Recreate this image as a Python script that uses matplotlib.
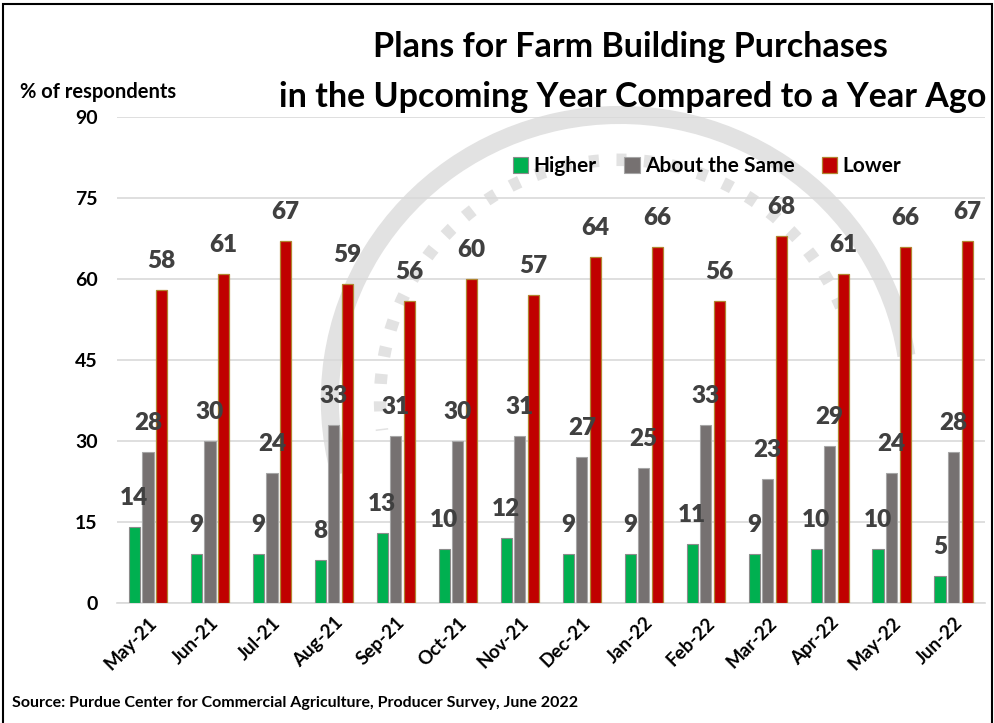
import matplotlib.pyplot as plt
import numpy as np
from matplotlib.patches import Rectangle, Arc

months = ["May-21", "Jun-21", "Jul-21", "Aug-21", "Sep-21", "Oct-21", "Nov-21",
          "Dec-21", "Jan-22", "Feb-22", "Mar-22", "Apr-22", "May-22", "Jun-22"]
higher = [14, 9, 9, 8, 13, 10, 12, 9, 9, 11, 9, 10, 10, 5]
same = [28, 30, 24, 33, 31, 30, 31, 27, 25, 33, 23, 29, 24, 28]
lower = [58, 61, 67, 59, 56, 60, 57, 64, 66, 56, 68, 61, 66, 67]

plt.rcParams['font.family'] = ['Lato', 'DejaVu Sans']
plt.rcParams['font.weight'] = 'bold'

fig = plt.figure(figsize=(9.95, 7.23), dpi=100)

# faint watermark arcs in the background
bg = fig.add_axes([0, 0, 1, 1], zorder=-1)
bg.axis('off')
bg.set_xlim(0, 1)
bg.set_ylim(0, 1)
wm = '#e2e2e2'
bg.add_patch(Arc((0.623, 0.447), 0.583, 0.788, theta1=12, theta2=200, lw=13, color=wm))
bg.add_patch(Arc((0.623, 0.447), 0.482, 0.664, theta1=30, theta2=190, lw=9, color=wm,
                 ls=(0, (0.8, 1.4))))

ax = fig.add_axes([0.1176, 0.166, 0.872, 0.672])

x = np.arange(len(months))
w = 0.18
off = 0.22
b1 = ax.bar(x - off, higher, w, color='#00b050', edgecolor='#8c8c8c', lw=0.8,
            label='Higher', zorder=3)
b2 = ax.bar(x, same, w, color='#767171', edgecolor='#a6a6a6', lw=0.8,
            label='About the Same', zorder=3)
b3 = ax.bar(x + off, lower, w, color='#c00000', edgecolor='#b08530', lw=0.9,
            label='Lower', zorder=3)

for bars, vals in [(b1, higher), (b2, same), (b3, lower)]:
    for rect, v in zip(bars, vals):
        ax.annotate(str(v), (rect.get_x() + rect.get_width() / 2, v),
                    xytext=(0, 13), textcoords='offset points',
                    ha='center', va='bottom', fontsize=17.5, fontweight='heavy',
                    color='#404040', zorder=4)

ax.set_ylim(0, 90)
ax.set_xlim(-0.5, len(months) - 0.5)
ax.set_yticks(np.arange(0, 91, 15))
ax.yaxis.grid(True, color='#d9d9d9', lw=1.2, zorder=0)
ax.set_axisbelow(True)
for s in ['top', 'right', 'left']:
    ax.spines[s].set_visible(False)
ax.spines['bottom'].set_color('#d9d9d9')
ax.spines['bottom'].set_linewidth(1.2)
ax.tick_params(length=0)
ax.tick_params(axis='y', labelsize=14, pad=14)
ax.set_xticks(x)
ax.set_xticklabels(months, rotation=45, ha='right', rotation_mode='anchor',
                   fontsize=13.5, fontweight='bold')
ax.tick_params(axis='x', pad=8)
for lab in ax.get_yticklabels():
    lab.set_fontweight('bold')
ax.patch.set_alpha(0)

ax.legend(loc='center', bbox_to_anchor=(0.68, 0.899), ncol=3, frameon=False,
          prop={'size': 15, 'weight': 'bold'}, handlelength=0.75, handleheight=0.75,
          handletextpad=0.25, columnspacing=1.3)

fig.text(0.634, 0.935, "Plans for Farm Building Purchases", ha='center', va='center',
         fontsize=24.5, fontweight='bold')
fig.text(0.636, 0.866, "in the Upcoming Year Compared to a Year Ago", ha='center',
         va='center', fontsize=24.5, fontweight='bold')
fig.text(0.02, 0.873, "% of respondents", ha='left', va='center', fontsize=14.5,
         fontweight='bold')
fig.text(0.012, 0.027, "Source: Purdue Center for Commercial Agriculture, Producer Survey, June 2022",
         ha='left', va='center', fontsize=11.5, fontweight='bold')

fig.patches.append(Rectangle((0.003, -0.01), 0.994, 1.005, fill=False, ec='black',
                             lw=1.5, transform=fig.transFigure, zorder=10))

plt.savefig("out.png", dpi=100)
